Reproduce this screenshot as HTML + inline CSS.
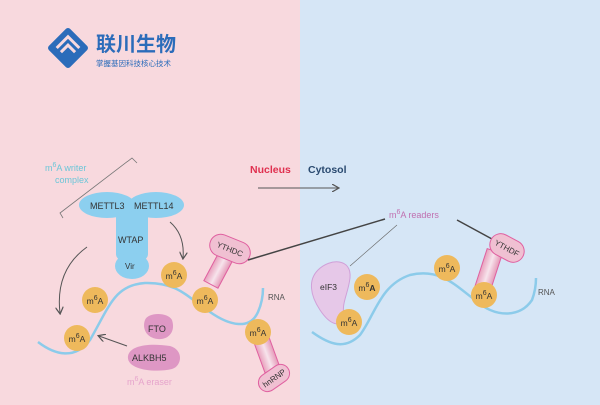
<!DOCTYPE html>
<html><head><meta charset="utf-8"><style>
html,body{margin:0;padding:0;width:600px;height:405px;overflow:hidden}
svg text{font-family:"Liberation Sans","Noto Sans CJK SC",sans-serif}
</style></head><body>
<svg width="600" height="405" viewBox="0 0 600 405" xmlns="http://www.w3.org/2000/svg">
<defs>
<marker id="ar" markerWidth="8" markerHeight="8" refX="6" refY="4" orient="auto" markerUnits="userSpaceOnUse"><path d="M0,0 L7,4 L0,8" fill="none" stroke="#555" stroke-width="1.2"/></marker>
<linearGradient id="pk" x1="0" y1="0" x2="1" y2="0"><stop offset="0" stop-color="#e8a0bc"/><stop offset="0.5" stop-color="#f7e4ec"/><stop offset="1" stop-color="#e59ab8"/></linearGradient>
</defs>
<rect x="0" y="0" width="300" height="405" fill="#f8d9de"/>
<rect x="300" y="0" width="300" height="405" fill="#d6e6f6"/>
<!-- logo -->
<g transform="translate(68,48) rotate(45)">
<rect x="-15" y="-15" width="30" height="30" rx="3" fill="#2b6cba"/>
<path d="M-8,8 L-8,-8 L8,-8" fill="none" stroke="#f8d9de" stroke-width="3"/>
<path d="M-2,8 L-2,-2 L8,-2" fill="none" stroke="#f8d9de" stroke-width="3"/>
</g>
<text x="96" y="51" font-size="20" font-weight="bold" fill="#2b6cba">联川生物</text>
<text x="96" y="66" font-size="7.5" fill="#2b6cba">掌握基因科技核心技术</text>
<!-- writer -->
<text x="45" y="171" font-size="9" fill="#6cc6d8">m<tspan dy="-4" font-size="7">6</tspan><tspan dy="4">A writer</tspan></text>
<text x="55" y="183" font-size="9" fill="#6cc6d8">complex</text>
<path d="M137,163 L132,158 L60,213 L63,218" fill="none" stroke="#777" stroke-width="0.8"/>
<rect x="116" y="205" width="32" height="55" rx="6" fill="#8ccfef"/>
<ellipse cx="107" cy="205" rx="28" ry="13" fill="#8ccfef"/>
<ellipse cx="156" cy="205" rx="28" ry="13" fill="#8ccfef"/>
<ellipse cx="132" cy="266" rx="17" ry="13" fill="#8ccfef"/>
<text x="90" y="209" font-size="9" fill="#333">METTL3</text>
<text x="134" y="209" font-size="9" fill="#333">METTL14</text>
<text x="118" y="243" font-size="9" fill="#333">WTAP</text>
<text x="125" y="269" font-size="8" fill="#333">Vir</text>
<text x="250" y="173" font-size="10.5" font-weight="bold" fill="#e0304f">Nucleus</text>
<text x="308" y="173" font-size="10.5" font-weight="bold" fill="#2a4a70">Cytosol</text>
<line x1="258" y1="188" x2="338" y2="188" stroke="#555" stroke-width="1" marker-end="url(#ar)"/>
<!-- arrows -->
<path d="M87,247 Q55,270 60,313" fill="none" stroke="#555" stroke-width="1" marker-end="url(#ar)"/>
<path d="M170,222 Q185,235 183,258" fill="none" stroke="#555" stroke-width="1" marker-end="url(#ar)"/>
<line x1="127" y1="346" x2="99" y2="336" stroke="#555" stroke-width="1" marker-end="url(#ar)"/>
<!-- RNA left -->
<path d="M38,342 C55,355 75,360 90,340 C110,305 115,285 145,283 C180,282 190,300 210,312 C230,326 250,330 258,312 C262,303 263,295 263,288" fill="none" stroke="#8ccbea" stroke-width="2.5"/>
<text x="268" y="300" font-size="8" fill="#555">RNA</text>
<!-- YTHDC -->
<g transform="translate(217,273) rotate(28)">
<rect x="-8" y="-25" width="16" height="38" fill="url(#pk)" stroke="#e060a0" stroke-width="1"/>
</g>
<g transform="translate(230,249) rotate(22)">
<rect x="-21" y="-11" width="42" height="22" rx="11" fill="#f0c0d2" stroke="#e060a0" stroke-width="1"/>
<text x="0" y="3" font-size="8" fill="#333" text-anchor="middle">YTHDC</text>
</g>
<!-- hnRNP -->
<g transform="translate(267,355) rotate(-20)">
<rect x="-8" y="-20" width="16" height="36" fill="url(#pk)" stroke="#e060a0" stroke-width="1"/>
</g>
<g transform="translate(274,378) rotate(-35)">
<rect x="-17" y="-9" width="34" height="18" rx="9" fill="#f0c0d2" stroke="#e060a0" stroke-width="1"/>
<text x="0" y="3" font-size="8" fill="#333" text-anchor="middle">hnRNP</text>
</g>
<!-- eraser -->
<path d="M145,320 C148,312 168,312 172,320 C176,332 168,340 158,339 C146,338 142,328 145,320Z" fill="#de97c4"/>
<path d="M128,356 C130,345 150,343 170,346 C184,350 182,366 172,369 C155,373 126,370 128,356Z" fill="#de97c4"/>
<text x="148" y="332" font-size="9" fill="#333">FTO</text>
<text x="132" y="361" font-size="9" fill="#333">ALKBH5</text>
<text x="127" y="385" font-size="9" fill="#e6a4cc">m<tspan dy="-4" font-size="7">6</tspan><tspan dy="4">A eraser</tspan></text>
<!-- readers -->
<line x1="248" y1="260" x2="385" y2="219" stroke="#444" stroke-width="1.5"/>
<line x1="397" y1="225" x2="350" y2="266" stroke="#666" stroke-width="0.6"/>
<line x1="457" y1="220" x2="492" y2="239" stroke="#444" stroke-width="1.5"/>
<text x="389" y="218" font-size="9" fill="#c070b0">m<tspan dy="-4" font-size="7">6</tspan><tspan dy="4">A readers</tspan></text>
<path d="M318,270 C330,258 352,258 350,278 C348,295 340,305 345,318 C340,328 330,325 320,310 C310,295 308,280 318,270Z" fill="#e6c8e8" stroke="#d0a0d8" stroke-width="1"/>
<text x="320" y="290" font-size="8.5" fill="#333">eIF3</text>
<!-- RNA right -->
<path d="M312,332 C330,345 345,350 360,335 C375,315 380,285 410,275 C440,268 455,285 475,300 C495,318 520,318 532,300 C535,292 536,285 536,278" fill="none" stroke="#8ccbea" stroke-width="2.5"/>
<text x="538" y="295" font-size="8" fill="#555">RNA</text>
<!-- YTHDF -->
<g transform="translate(488,272) rotate(18)">
<rect x="-8" y="-22" width="16" height="40" fill="url(#pk)" stroke="#e060a0" stroke-width="1"/>
</g>
<g transform="translate(507,248) rotate(28)">
<rect x="-18" y="-11" width="36" height="22" rx="11" fill="#f0c0d2" stroke="#e060a0" stroke-width="1"/>
<text x="0" y="3" font-size="8" fill="#333" text-anchor="middle">YTHDF</text>
</g>
<!-- m6A circles -->
<g font-size="8.5" fill="#333" text-anchor="middle">
<g><circle cx="77" cy="338" r="13" fill="#eeb95c"/><text x="77" y="342">m<tspan dy="-4" font-size="7">6</tspan><tspan dy="4">A</tspan></text></g>
<g><circle cx="95" cy="300" r="13" fill="#eeb95c"/><text x="95" y="304">m<tspan dy="-4" font-size="7">6</tspan><tspan dy="4">A</tspan></text></g>
<g><circle cx="174" cy="275" r="13" fill="#eeb95c"/><text x="174" y="279">m<tspan dy="-4" font-size="7">6</tspan><tspan dy="4">A</tspan></text></g>
<g><circle cx="205" cy="300" r="13" fill="#eeb95c"/><text x="205" y="304">m<tspan dy="-4" font-size="7">6</tspan><tspan dy="4">A</tspan></text></g>
<g><circle cx="258" cy="332" r="13" fill="#eeb95c"/><text x="258" y="336">m<tspan dy="-4" font-size="7">6</tspan><tspan dy="4">A</tspan></text></g>
<g><circle cx="367" cy="287" r="13" fill="#eeb95c"/><text x="367" y="291">m<tspan dy="-4" font-size="7">6</tspan><tspan dy="4" font-weight="bold">A</tspan></text></g>
<g><circle cx="349" cy="322" r="13" fill="#eeb95c"/><text x="349" y="326">m<tspan dy="-4" font-size="7">6</tspan><tspan dy="4">A</tspan></text></g>
<g><circle cx="447" cy="268" r="13" fill="#eeb95c"/><text x="447" y="272">m<tspan dy="-4" font-size="7">6</tspan><tspan dy="4">A</tspan></text></g>
<g><circle cx="484" cy="295" r="13" fill="#eeb95c"/><text x="484" y="299">m<tspan dy="-4" font-size="7">6</tspan><tspan dy="4">A</tspan></text></g>
</g>
</svg>
</body></html>
